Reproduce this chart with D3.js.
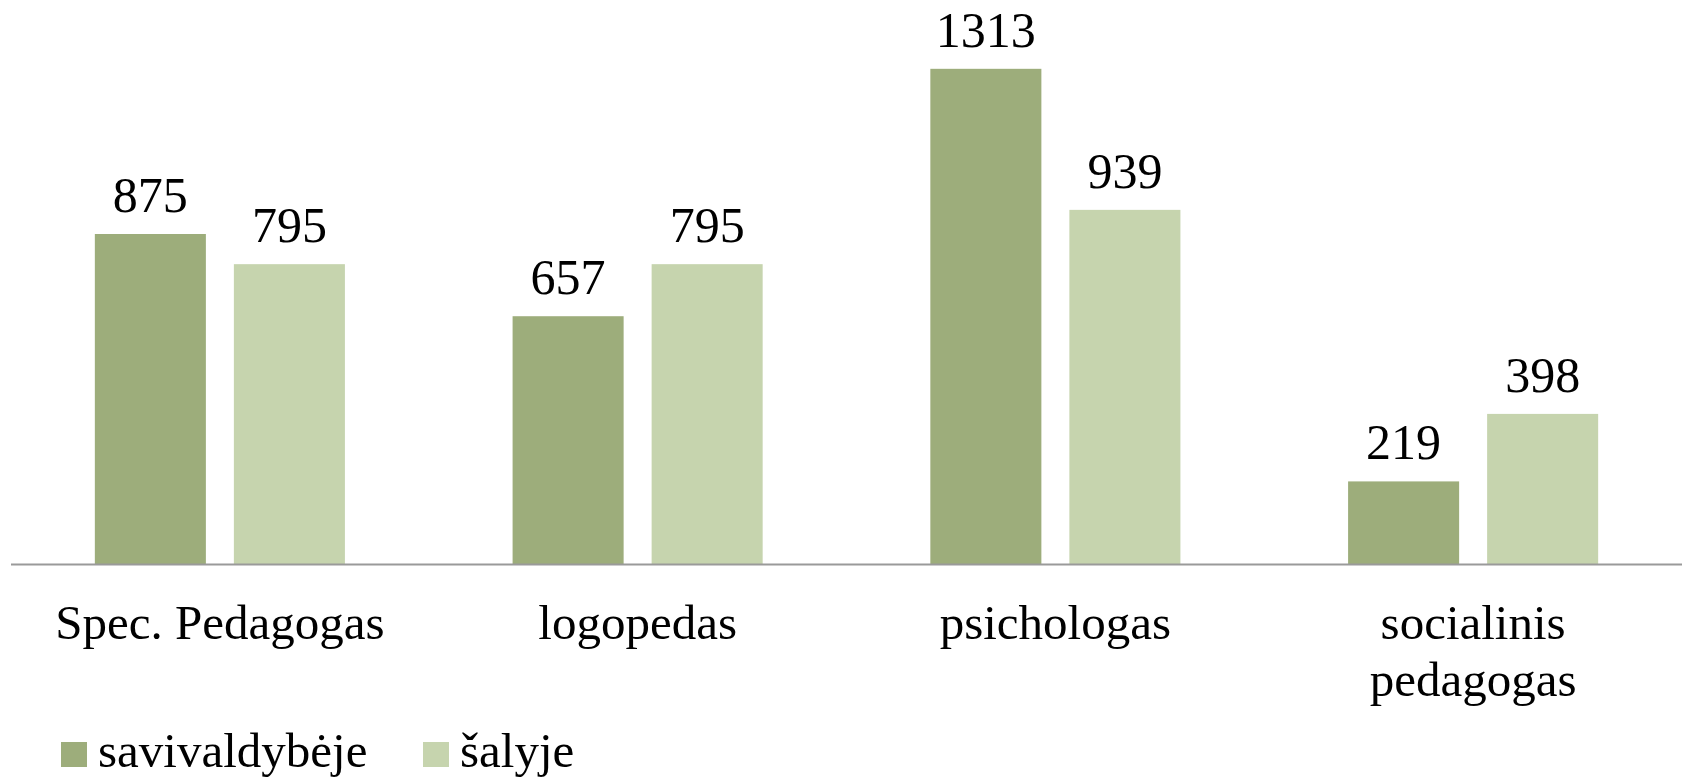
<!DOCTYPE html>
<html>
<head>
<meta charset="utf-8">
<script src="https://cdn.jsdelivr.net/npm/d3@7"></script>
<style>
  body { margin: 0; background: #fff; }
  text { font-family: "Liberation Serif", "DejaVu Serif", serif; fill: #000; }
</style>
</head>
<body>
<div id="chart"></div>
<script>
// data
const categories = ["Spec. Pedagogas", "logopedas", "psichologas", "socialinis pedagogas"];
const seriesNames = ["savivaldybėje", "šalyje"];
const savivaldybeje = [875, 657, 1313, 219];
const salyje = [795, 795, 939, 398];
const colors = ["#9dad7b", "#c6d4ae"];

const width = 1682, height = 779;
const axisY = 564;

const svg = d3.select("#chart")
    .append("svg")
    .attr("width", width)
    .attr("height", height);

const data = categories.map((c, i) => ({
    cat: c,
    values: [
        {key: seriesNames[0], value: savivaldybeje[i]},
        {key: seriesNames[1], value: salyje[i]}
    ]
}));

// X scales
const x = d3.scaleBand()
    .domain(categories)
    .range([11, width])
    .padding(0);

const xSub = d3.scaleBand()
    .domain(seriesNames)
    .range([0, x.bandwidth()])
    .paddingInner(0.2014)
    .paddingOuter(0.603);

// Y scale
const y = d3.scaleLinear()
    .domain([0, 1400])
    .range([axisY, 36]);

const color = d3.scaleOrdinal()
    .domain(seriesNames)
    .range(colors);

// bars
const groups = svg.append("g")
    .selectAll("g")
    .data(data)
    .join("g")
    .attr("transform", d => `translate(${x(d.cat)},0)`);

groups.selectAll("rect")
    .data(d => d.values)
    .join("rect")
    .attr("x", d => xSub(d.key))
    .attr("y", d => y(d.value))
    .attr("width", xSub.bandwidth())
    .attr("height", d => y(0) - y(d.value))
    .attr("fill", d => color(d.key));

// value labels
groups.selectAll("text.val")
    .data(d => d.values)
    .join("text")
    .attr("class", "val")
    .attr("x", d => xSub(d.key) + xSub.bandwidth() / 2)
    .attr("y", d => y(d.value) - 22)
    .attr("text-anchor", "middle")
    .style("font-size", "50px")
    .text(d => d.value);

// x axis line
svg.append("line")
    .attr("x1", x.range()[0])
    .attr("x2", x.range()[1])
    .attr("y1", axisY + 0.5)
    .attr("y2", axisY + 0.5)
    .attr("stroke", "#9a9a9a")
    .attr("stroke-width", 2);

// category labels (wrap the long one onto two lines)
const catLabels = svg.append("g")
    .selectAll("text")
    .data(categories)
    .join("text")
    .attr("text-anchor", "middle")
    .attr("x", d => x(d) + x.bandwidth() / 2)
    .attr("y", 639)
    .style("font-size", "49px");

catLabels.each(function(d) {
    const lines = d === "socialinis pedagogas" ? d.split(" ") : [d];
    const t = d3.select(this);
    lines.forEach((ln, i) => {
        t.append("tspan")
            .attr("x", x(d) + x.bandwidth() / 2)
            .attr("dy", i === 0 ? 0 : 57)
            .text(ln);
    });
});

// legend
const legendX = [61, 423];
const legend = svg.append("g")
    .selectAll("g")
    .data(seriesNames)
    .join("g")
    .attr("transform", (d, i) => `translate(${legendX[i]},742)`);

legend.append("rect")
    .attr("width", 26)
    .attr("height", 25)
    .attr("fill", d => color(d));

legend.append("text")
    .attr("x", 37)
    .attr("y", 25)
    .style("font-size", "49px")
    .text(d => d);
</script>
</body>
</html>
